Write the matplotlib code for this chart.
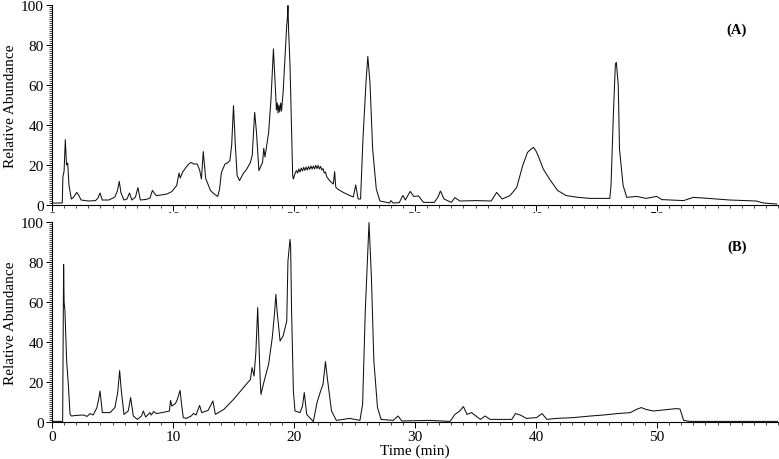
import matplotlib
matplotlib.use('Agg')
import matplotlib.pyplot as plt
from matplotlib.ticker import MultipleLocator
from matplotlib.patches import Rectangle

plt.rcParams['font.family'] = ['Liberation Serif', 'DejaVu Serif']

# chromatogram (A): retention time (min), relative abundance
time_a = [0, 0.85, 0.9, 1.0, 1.1, 1.2, 1.3, 1.4, 1.6, 1.8, 2.04, 2.2, 2.4, 3.0, 3.6, 3.8, 3.97, 4.15,
          4.7, 5.2, 5.4, 5.56, 5.7, 5.95, 6.2, 6.4, 6.6, 6.9, 7.1, 7.3, 7.8, 8.1, 8.3, 8.6, 9.0, 9.5,
          9.9, 10.3, 10.5, 10.6, 10.8, 11.1, 11.3, 11.5, 11.7, 12.0, 12.2, 12.35, 12.5, 12.7, 13.1,
          13.4, 13.7, 13.85, 14.0, 14.3, 14.5, 14.7, 14.85, 15.0, 15.15, 15.3, 15.5, 15.8, 16.1, 16.4,
          16.55, 16.75, 16.9, 17.1, 17.4, 17.5, 17.6, 17.9, 18.1, 18.3, 18.45, 18.55, 18.62, 18.68,
          18.75, 18.82, 18.9, 18.97, 19.05, 19.1, 19.25, 19.4, 19.45, 19.5, 19.55, 19.67, 19.8, 19.89,
          19.95, 20.1, 20.2, 20.3, 20.4, 20.5, 20.6, 20.7, 20.8, 20.9, 21.0, 21.1, 21.2, 21.3, 21.4,
          21.5, 21.6, 21.7, 21.8, 21.9, 22.0, 22.1, 22.2, 22.3, 22.4, 22.5, 22.6, 22.7, 22.9, 23.1,
          23.25, 23.36, 23.45, 23.6, 24.1, 24.5, 24.9, 25.1, 25.3, 25.5, 25.7, 25.95, 26.1, 26.28,
          26.5, 26.8, 27.1, 27.9, 28.0, 28.2, 28.7, 29.0, 29.2, 29.6, 29.9, 30.3, 30.7, 31.6, 31.9,
          32.1, 32.4, 33.0, 33.3, 33.7, 35.1, 36.3, 36.75, 37.2, 37.85, 38.4, 38.9, 39.3, 39.6, 39.8,
          40.0, 40.2, 40.6, 41.2, 41.8, 42.5, 43.5, 44.5, 46.1, 46.2, 46.4, 46.56, 46.64, 46.8, 46.9,
          47.2, 47.5, 48.3, 49.1, 49.97, 50.4, 52.2, 53.0, 53.8, 56.0, 58.2, 58.8, 59.9]
abund_a = [1, 1, 14, 17, 32.7, 20, 21, 10, 3, 4, 6.3, 5, 2.5, 2, 2.2, 3.5, 6, 2.5,
           2.5, 4, 7, 11.8, 6, 2.5, 3, 6, 2.5, 4, 8.7, 2.5, 2.8, 3.5, 7.3, 4.7, 5.0, 5.5,
           6.7, 9.7, 16, 13.5, 16.5, 19, 20.5, 21.3, 20.5, 20.5, 17.5, 13, 26.7, 13.3, 7.2,
           5.5, 4.3, 8, 16.3, 20.5, 21, 22.2, 30, 49.7, 30, 14.7, 12.2, 15.7, 18, 21.3,
           25, 46.3, 36.3, 17.2, 21.3, 28.3, 24, 36, 53, 78, 60, 47.5, 51, 46,
           50, 46.5, 51, 47, 53, 56.3, 73, 90, 93, 99.7, 88, 70, 36, 14.7,
           13, 16, 17.2, 16, 18, 16.5, 18.5, 17, 18.8, 17.3, 19, 17.5, 19.2, 17.8, 19.5,
           18, 19.5, 18, 19.8, 18.2, 19.8, 18, 19.3, 17.5, 18.2, 16, 16.5, 14.2, 12.5, 11.3,
           10.5, 16.7, 9, 8, 6.2, 5, 4, 10, 3, 3, 33, 61.3, 74.3, 61,
           28, 8, 2, 1, 2.2, 1, 1.2, 4.8, 2.5, 6.8, 4.3, 4.5, 1.3, 1.3, 4,
           7, 3, 1.3, 3.7, 2, 2.2, 2, 6.3, 3, 4.7, 8.7, 19.7, 26.3, 28, 28.8,
           27, 24.3, 18, 12.2, 7.2, 4.7, 3.8, 3.3, 3.3, 9.7, 46.3, 70.5, 71.3, 59.7, 28,
           9.7, 3.8, 4.3, 3.3, 4.3, 2.7, 2.2, 3.8, 3.5, 2.5, 2, 1, 0.5]

# chromatogram (B)
time_b = [0, 0.88, 0.93, 0.96, 1.0, 1.07, 1.21, 1.35, 1.49, 1.6, 2.0, 2.59, 2.9, 3.14, 3.4, 3.7,
          3.83, 3.97, 4.16, 4.8, 5.2, 5.43, 5.59, 5.73, 5.95, 6.3, 6.5, 6.72, 7.05, 7.4, 7.55,
          7.74, 8.1, 8.2, 8.4, 8.65, 9.5, 9.7, 9.8, 9.9, 10.2, 10.36, 10.58, 10.74, 10.85, 11.1,
          11.5, 11.7, 11.9, 12.2, 12.37, 12.9, 13.3, 13.5, 14.2, 15.0, 15.8, 16.4, 16.53, 16.7,
          16.85, 17.0, 17.1, 17.2, 17.27, 17.5, 17.9, 18.2, 18.4, 18.5, 18.6, 18.85, 19.1, 19.4,
          19.5, 19.67, 19.72, 19.8, 19.95, 20.08, 20.5, 20.7, 20.85, 21.05, 21.3, 21.6, 21.9,
          22.2, 22.4, 22.6, 22.75, 23.1, 23.5, 24.6, 25.45, 25.67, 25.89, 26.2, 26.4, 26.6, 26.9,
          27.2, 28.2, 28.6, 28.9, 31.2, 32.9, 33.3, 33.7, 34.0, 34.3, 34.67, 35.4, 35.8, 36.2,
          38.0, 38.3, 38.7, 39.2, 40.05, 40.5, 40.9, 41.7, 43.1, 44.5, 45.6, 46.7, 47.8, 48.3,
          48.7, 49.1, 49.7, 50.5, 51.6, 51.9, 52.2, 52.7, 60]
abund_b = [0.3, 0.3, 50, 78.8, 60, 55.5, 30.5, 18.8, 3.8, 3, 3.3, 3.5, 2.8, 4.2, 3.5, 7,
           10.5, 15.5, 4.7, 4.7, 7.2, 14.8, 25.7, 15.5, 3.8, 5.5, 12.2, 3, 1.3, 3, 5.5,
           2.5, 4.7, 3.5, 5.2, 4.2, 5.2, 5.5, 10.8, 8, 9.2, 11.3, 15.8, 7.2, 2.2, 1.8,
           3, 4.3, 3.5, 8.3, 4.7, 5.8, 10.5, 3.8, 6.3, 11.3, 17, 21.3, 27.2, 23,
           35, 57.2, 40, 22, 13.8, 19.7, 28.8, 42, 55, 63.8, 55.5, 40.5, 43, 50.5,
           80.5, 91.3, 88, 55.5, 15.5, 5.5, 4.7, 8, 14.7, 3.8, 2.2, 0.2, 9.7,
           15.5, 18.8, 30.2, 22.2, 5.5, 0.8, 1.8, 0.8, 8.8, 55.5, 99.7, 72, 30.5, 7.2,
           1.3, 0.8, 3, 0.5, 0.8, 0.3, 3.8, 5.5, 7.7, 3.8, 4.7, 1.3, 3, 1.3,
           1.3, 4.2, 3.5, 1.8, 2.2, 4.2, 1.3, 1.8, 2.2, 3, 3.5, 4.2, 4.7, 6.3,
           7.2, 6.3, 5.5, 6, 6.7, 6.5, 0.8, 0.3, 0.3]

x_ticks = [0, 10, 20, 30, 40, 50]
y_ticks = [0, 20, 40, 60, 80, 100]

fig = plt.figure(figsize=(7.79, 4.6), dpi=100)
W, H = 779, 460
axA = fig.add_axes([52 / W, 1 - 206 / H, 726 / W, 200 / H])
axB = fig.add_axes([52 / W, 1 - 423 / H, 726 / W, 200 / H])
axA.set_zorder(0)
axB.set_zorder(2)
# bottom panel hides the lower part of the upper panel's time labels
fig.add_artist(Rectangle((0, 1 - 228 / H), 1, 14 / H, transform=fig.transFigure,
                         facecolor='white', edgecolor='none', zorder=1))

for ax, t, y, lab in [(axA, time_a, abund_a, '(A)'), (axB, time_b, abund_b, '(B)')]:
    ax.plot(t, y, color='#111111', lw=0.75)
    ax.set_xlim(0, 60)
    ax.set_ylim(0, 100)
    ax.set_xticks(x_ticks)
    ax.set_yticks(y_ticks)
    ax.xaxis.set_minor_locator(MultipleLocator(1))
    ax.yaxis.set_minor_locator(MultipleLocator(1))
    ax.spines['top'].set_visible(False)
    ax.spines['right'].set_visible(False)
    ax.spines['left'].set_linewidth(0.8)
    ax.spines['bottom'].set_linewidth(0.8)
    ax.tick_params(which='major', length=4, width=0.7, labelsize=11, pad=2)
    ax.tick_params(which='minor', length=2.5, width=0.5)
    ax.set_ylabel('Relative Abundance', fontsize=11, labelpad=3)
    ax.text(56.6, 88, lab, fontsize=10.5, fontweight='bold', ha='center', va='center')

axA.tick_params(axis='x', which='major', pad=0.5)
axB.set_xlabel('Time (min)', fontsize=11, labelpad=0)

fig.savefig('out.png', dpi=100)
